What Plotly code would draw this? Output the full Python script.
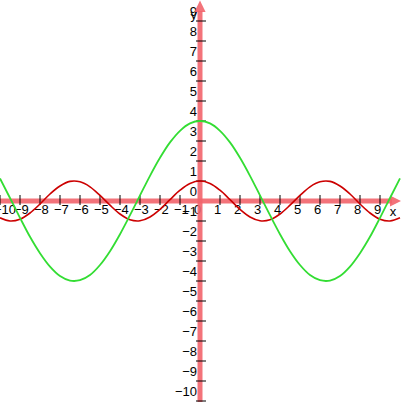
import plotly.graph_objects as go

# sample points (every 0.5 along x, from 0 to 10; the curves are mirrored about x=0)
x_vals = [v * 0.5 for v in range(-20, 21)]
green_right = [4.00, 3.88, 3.51, 2.93, 2.16, 1.26, 0.28, -0.71, -1.66, -2.51, -3.20,
               -3.70, -3.96, -3.98, -3.75, -3.28, -2.61, -1.79, -0.84, 0.15, 1.13]
red_right = [1.00, 0.88, 0.54, 0.07, -0.42, -0.80, -0.99, -0.94, -0.65, -0.21, 0.28,
             0.71, 0.96, 0.98, 0.75, 0.35, -0.15, -0.60, -0.91, -1.00, -0.84]
green_y = green_right[:0:-1] + green_right
red_y = red_right[:0:-1] + red_right

x_ticks = list(range(-10, 10))
y_ticks = list(range(-10, 10))

AXIS = "rgba(242,100,108,0.9)"
FONT = dict(family="Liberation Sans, Arial", size=13, color="black")

fig = go.Figure()

# tick labels
fig.add_trace(go.Scatter(
    x=[t - 0.3 for t in x_ticks], y=[-0.5] * len(x_ticks), mode="text",
    text=[str(t).replace("-", "\u2212") for t in x_ticks],
    textposition="middle right", textfont=FONT, hoverinfo="skip"))
fig.add_trace(go.Scatter(
    x=[-0.15] * len(y_ticks), y=[t + 0.42 for t in y_ticks], mode="text",
    text=[str(t).replace("-", "\u2212") for t in y_ticks],
    textposition="middle left", textfont=FONT, hoverinfo="skip"))
fig.add_trace(go.Scatter(
    x=[9.65, -0.15], y=[-0.6, 9.25], mode="text", text=["x", "y"],
    textposition=["middle center", "middle left"], textfont=FONT, hoverinfo="skip"))

# axes with arrowheads
fig.add_trace(go.Scatter(x=[-10.2, 9.6], y=[0, 0], mode="lines",
                         line=dict(color=AXIS, width=5), hoverinfo="skip"))
fig.add_trace(go.Scatter(x=[0, 0], y=[-10.2, 9.5], mode="lines",
                         line=dict(color=AXIS, width=5), hoverinfo="skip"))
fig.add_trace(go.Scatter(x=[9.5, 10.05, 9.5, 9.5], y=[0.27, 0, -0.27, 0.27],
                         mode="lines", fill="toself", fillcolor=AXIS,
                         line=dict(color=AXIS, width=0), hoverinfo="skip"))
fig.add_trace(go.Scatter(x=[-0.28, 0, 0.28, -0.28], y=[9.45, 10.02, 9.45, 9.45],
                         mode="lines", fill="toself", fillcolor=AXIS,
                         line=dict(color=AXIS, width=0), hoverinfo="skip"))

# tick marks
tx, ty = [], []
for t in x_ticks:
    if t != 0:
        tx += [t, t, None]
        ty += [0.3, -0.2, None]
for t in y_ticks:
    if t != 0:
        tx += [-0.2, 0.3, None]
        ty += [t, t, None]
fig.add_trace(go.Scatter(x=tx, y=ty, mode="lines",
                         line=dict(color="black", width=1), hoverinfo="skip"))

# curves
fig.add_trace(go.Scatter(x=x_vals, y=red_y, mode="lines", line_shape="spline",
                         line=dict(color="#cc0000", width=1.6)))
fig.add_trace(go.Scatter(x=x_vals, y=green_y, mode="lines", line_shape="spline",
                         line=dict(color="#33dd33", width=1.8)))

fig.update_layout(
    width=408, height=402, margin=dict(l=0, r=0, t=0, b=0),
    paper_bgcolor="white", plot_bgcolor="white", showlegend=False,
    xaxis=dict(range=[-10, 10.4], visible=False, fixedrange=True),
    yaxis=dict(range=[-10.05, 10.05], visible=False, fixedrange=True),
)

fig.write_html("out.html", config={"displayModeBar": False},
               post_script="document.body.style.margin='0';document.body.style.overflow='hidden';")
